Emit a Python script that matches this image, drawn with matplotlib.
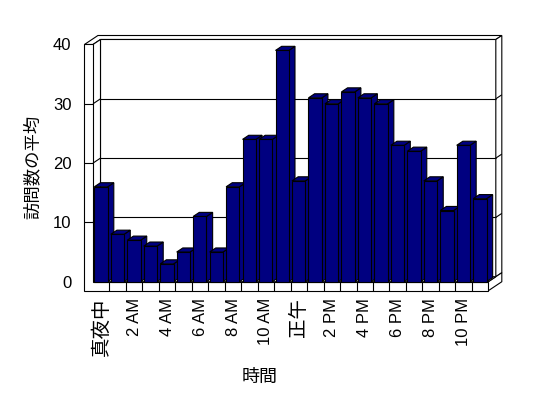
import matplotlib
matplotlib.use('Agg')
import matplotlib.pyplot as plt
from matplotlib.patches import Polygon

#%%
# data
visits = [16, 8, 7, 6, 3, 5, 11, 5, 16, 24, 24, 39,
          17, 31, 30, 32, 31, 30, 23, 22, 17, 12, 23, 14]
tick_labels = ['真夜中', '2 AM', '4 AM', '6 AM', '8 AM', '10 AM',
               '正午', '2 PM', '4 PM', '6 PM', '8 PM', '10 PM']
y_ticks = [0, 10, 20, 30, 40]
x_title = '時間'
y_title = '訪問数の平均'

#%%
plt.rcParams['font.family'] = ['Liberation Sans', 'Noto Sans CJK JP']

fig = plt.figure(figsize=(5.48, 3.98), dpi=100)
ax = fig.add_axes([0.1697, 0.2922, 0.7214, 0.596])
n = len(visits)
ymax = y_ticks[-1]
ax.set_xlim(0, n)
ax.set_ylim(0, ymax)

# oblique projection of depth (one unit = wall depth)
ddx, ddy = 0.455, 0.843
wall = 0.52      # left wall thickness
floor_h = 1.52   # floor thickness
back_t = 0.8     # back wall thickness
bar_d = 0.82     # bar depth
gap, bw = 0.08, 0.81

navy = '#000080'
lw = 0.8


def off(x, y, d):
    return (x + d * ddx, y + d * ddy)


def poly(pts, fc='white', z=1):
    ax.add_patch(Polygon(pts, closed=True, fc=fc, ec='black', lw=lw,
                         zorder=z, clip_on=False, joinstyle='miter'))


def seg(p, q, z=1.5):
    ax.plot([p[0], q[0]], [p[1], q[1]], color='black', lw=lw,
            zorder=z, clip_on=False, solid_capstyle='butt')


#%%
# walls and floor
poly([(-wall, ymax), (0, ymax), off(0, ymax, 1), off(n, ymax, 1),
      off(n, ymax, 1 + back_t), off(-wall, ymax, 1 + back_t)])
poly([off(0, 0, 1), off(n, 0, 1), off(n, ymax, 1), off(0, ymax, 1)])
poly([(0, 0), (0, ymax), off(0, ymax, 1), off(0, 0, 1)])
poly([off(n, 0, 1), off(n, ymax, 1), off(n, ymax, 1 + back_t), off(n, 0, 1 + back_t)])
poly([(n, -floor_h), (n, 0), off(n, 0, 1 + back_t), off(n, -floor_h, 1 + back_t)])
poly([(0, 0), (n, 0), off(n, 0, 1), off(0, 0, 1)])
poly([(-wall, -floor_h), (n, -floor_h), (n, 0), (0, 0), (0, ymax), (-wall, ymax)])

for i in range(1, n):
    seg((i, -floor_h), (i, 0))

for v in y_ticks[1:-1]:
    seg((-wall, v), (0, v))
    seg((0, v), off(0, v, 1))
    seg(off(0, v, 1), off(n, v, 1))
    seg(off(n, v, 1), off(n, v, 1 + back_t))

#%%
# bars
for i, v in enumerate(visits):
    x0 = i + gap
    x1 = x0 + bw
    z = 3 + i * 0.01
    poly([(x1, 0), off(x1, 0, bar_d), off(x1, v, bar_d), (x1, v)], fc=navy, z=z)
    poly([(x0, v), (x1, v), off(x1, v, bar_d), off(x0, v, bar_d)], fc=navy, z=z)
    poly([(x0, 0), (x1, 0), (x1, v), (x0, v)], fc=navy, z=z)

#%%
ax.set_xticks([i + 0.5 for i in range(0, n, 2)])
ax.set_xticklabels(tick_labels, rotation=90, fontsize=12)
for lab in ax.get_xticklabels():
    if not lab.get_text()[0].isdigit():
        lab.set_fontsize(14)
ax.set_yticks(y_ticks)
ax.set_yticklabels([str(t) for t in y_ticks], fontsize=12)
ax.tick_params(axis='x', length=0, pad=11.5)
ax.tick_params(axis='y', length=0, pad=15.5)
for s in ax.spines.values():
    s.set_visible(False)
ax.patch.set_visible(False)

ax.text(0.4225, -0.402, x_title, transform=ax.transAxes, ha='center',
        va='center', fontsize=13)
ax.text(-0.154, 0.4836, y_title, transform=ax.transAxes, ha='center',
        va='center', rotation=90, fontsize=12.5)

fig.savefig('out.png', dpi=100)
